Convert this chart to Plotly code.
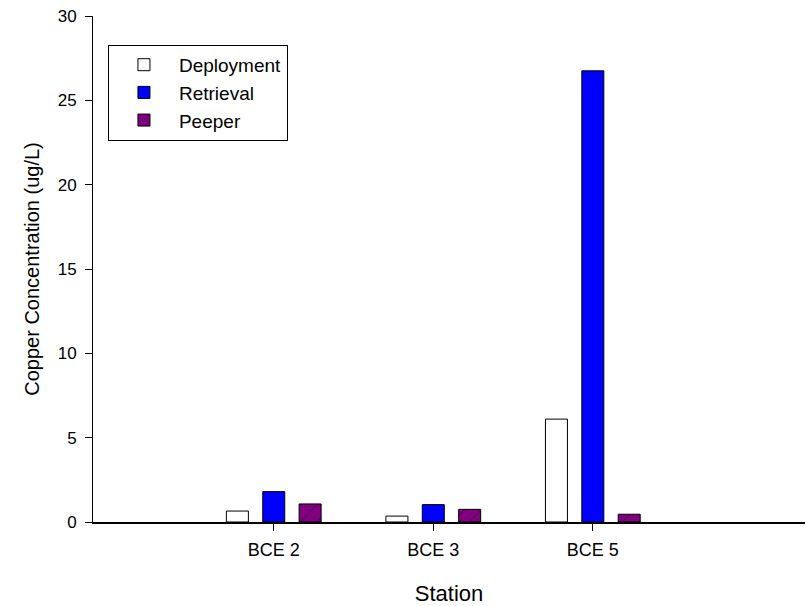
import plotly.graph_objects as go

# Station categories and copper concentrations (ug/L)
stations = ["BCE 2", "BCE 3", "BCE 5"]
deployment = [0.65, 0.35, 6.1]
retrieval = [1.8, 1.03, 26.75]
peeper = [1.07, 0.75, 0.46]

fig = go.Figure()

fig.add_trace(go.Bar(
    x=stations, y=deployment, name="Deployment",
    marker=dict(color="white", line=dict(color="black", width=1)),
))
fig.add_trace(go.Bar(
    x=stations, y=retrieval, name="Retrieval",
    marker=dict(color="#0000FF", line=dict(color="black", width=1)),
))
fig.add_trace(go.Bar(
    x=stations, y=peeper, name="Peeper",
    marker=dict(color="#800080", line=dict(color="black", width=1),
                pattern=dict(shape="/", fgcolor="black", bgcolor="#800080",
                             size=12, solidity=0.08)),
))

fig.update_layout(
    width=806, height=606,
    margin=dict(l=93, r=1, t=16, b=84),
    paper_bgcolor="white", plot_bgcolor="white",
    font=dict(family="Liberation Sans, Arial, sans-serif", color="black", size=16),
    barmode="group", bargap=0.316, bargroupgap=0.395,
    showlegend=True,
    legend=dict(
        x=0.021, y=0.943, xanchor="left", yanchor="top",
        bordercolor="black", borderwidth=1, bgcolor="white",
        font=dict(size=19), tracegroupgap=0, itemwidth=60,
    ),
    xaxis=dict(
        title=dict(text="Station", font=dict(size=22), standoff=26),
        range=[-1.133, 3.33], automargin=False,
        showline=True, linecolor="black", linewidth=1.5,
        ticks="outside", ticklen=7, tickcolor="black",
        showgrid=False, zeroline=False,
        tickfont=dict(size=18), ticklabelstandoff=4,
    ),
    yaxis=dict(
        title=dict(text="Copper Concentration (ug/L)", font=dict(size=20), standoff=12),
        range=[0, 30], dtick=5, automargin=False,
        showline=True, linecolor="black", linewidth=1,
        ticks="outside", ticklen=7, tickcolor="black",
        showgrid=False, zeroline=False,
        tickfont=dict(size=17), ticklabelstandoff=5,
        ticklabeloverflow="allow",
    ),
)

# drop the default 8px page margin so the figure fills the window exactly
fig.write_html("out.html", config={"displayModeBar": False},
               post_script="document.body.style.margin='0';")
